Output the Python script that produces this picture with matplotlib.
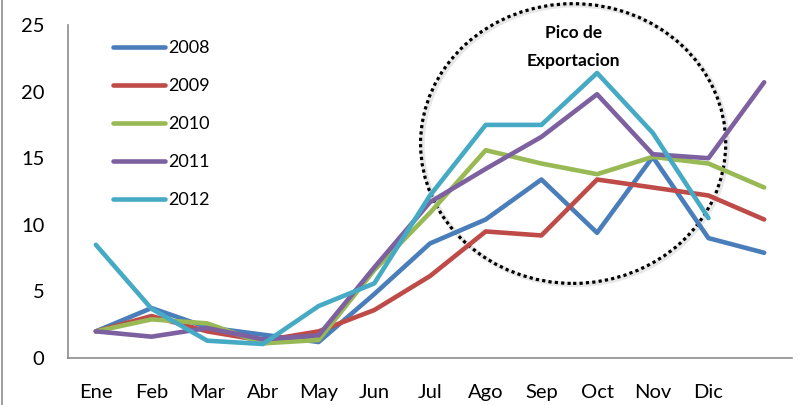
import matplotlib
matplotlib.use("Agg")
import matplotlib.pyplot as plt
from matplotlib.patches import Ellipse
from matplotlib.lines import Line2D

plt.rcParams['font.family'] = ['Lato', 'DejaVu Sans']

# meses (la serie tiene 13 puntos, el ultimo sin etiqueta)
meses = ['Ene', 'Feb', 'Mar', 'Abr', 'May', 'Jun', 'Jul', 'Ago', 'Sep', 'Oct', 'Nov', 'Dic', '']

s2008 = [2.0, 3.75, 2.3, 1.75, 1.2, 4.8, 8.6, 10.4, 13.4, 9.4, 15.1, 9.0, 7.9]
s2009 = [2.0, 3.15, 2.0, 1.3, 2.0, 3.6, 6.15, 9.5, 9.2, 13.4, 12.8, 12.2, 10.4]
s2010 = [2.0, 2.9, 2.6, 1.1, 1.35, 6.6, 10.9, 15.6, 14.6, 13.8, 15.1, 14.6, 12.8]
s2011 = [2.0, 1.6, 2.25, 1.4, 1.7, 6.8, 11.7, 14.2, 16.6, 19.8, 15.3, 15.0, 20.7]
s2012 = [8.5, 3.7, 1.3, 1.05, 3.9, 5.6, 12.2, 17.5, 17.5, 21.4, 16.9, 10.5]

series = [('2008', s2008, '#4A7EBB'),
          ('2009', s2009, '#BE4B48'),
          ('2010', s2010, '#98B954'),
          ('2011', s2011, '#7D60A0'),
          ('2012', s2012, '#46AAC5')]

yticks = [0, 5, 10, 15, 20, 25]

fig = plt.figure(figsize=(8.04, 4.05), dpi=100)
ax = fig.add_axes([68 / 804, 1 - 358 / 405, (792 - 68) / 804, (358 - 25) / 405])

for nombre, vals, color in series:
    ax.plot(range(len(vals)), vals, color=color, lw=3.3, label=nombre,
            solid_capstyle='round', solid_joinstyle='round')

ax.set_xlim(-0.5, 12.5)
ax.set_ylim(0, 25)
ax.set_xticks(range(len(meses)))
ax.set_xticklabels(meses)
ax.set_yticks(yticks)
ax.tick_params(axis='both', length=0, labelsize=14.5)
ax.tick_params(axis='y', pad=17)
ax.tick_params(axis='x', pad=19)

for side in ['top', 'right']:
    ax.spines[side].set_visible(False)
for side in ['left', 'bottom']:
    ax.spines[side].set_color('#8c8c8c')
    ax.spines[side].set_linewidth(1.2)

# circulo punteado con sombra
sombra = Ellipse((8.6, 16.0), 5.48, 21.0, fill=False, ec='#bbbbbb', lw=3.5,
                 alpha=0.35, clip_on=False)
ax.add_patch(sombra)
circ = Ellipse((8.57, 16.1), 5.48, 21.0, fill=False, ec='black', lw=2.3,
               ls=(0, (1, 1)), clip_on=False)
ax.add_patch(circ)
ax.text(8.57, 23.35, 'Pico de\nExportacion', ha='center', va='center',
        fontsize=12.5, fontweight='bold', linespacing=1.9)

leg = ax.legend(loc='upper left', bbox_to_anchor=(113 / 804, 1 - 40 / 405),
                bbox_transform=fig.transFigure, frameon=False, fontsize=13,
                handlelength=2.9, handletextpad=0.15, labelspacing=1.22,
                borderpad=0, borderaxespad=0)
for h in leg.get_lines():
    h.set_linewidth(3.3)

# borde izquierdo del area del grafico
fig.add_artist(Line2D([2 / 804, 2 / 804], [0, 1], transform=fig.transFigure,
                      color='#8c8c8c', lw=1.2))

fig.savefig('out.png', dpi=100)
